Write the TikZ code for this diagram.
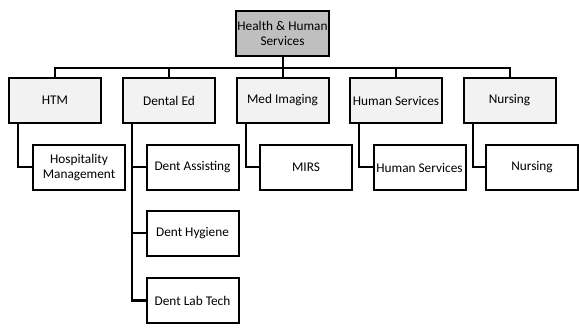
\documentclass[tikz,border=0pt]{standalone}
\usepackage{fontspec}
\setmainfont{Carlito}
\definecolor{topgray}{HTML}{BFBFBF}
\definecolor{lightgray1}{HTML}{F2F2F2}
\begin{document}
\begin{tikzpicture}[x=1pt,y=-1pt,
  box/.style={draw=black, line width=2pt, rectangle, minimum width=92pt, minimum height=45pt, inner sep=1pt, align=center, font=\fontsize{13.3}{15}\selectfont},
  topbox/.style={box, fill=topgray},
  l1box/.style={box, fill=lightgray1},
  l2box/.style={box, fill=white},
  conn/.style={line width=2pt},
  spine/.style={line width=2.8pt}]
\useasboundingbox (0,0) rectangle (579,328);
\node[topbox] (top) at (282.5,33.5) {Health \& Human\\Services};
\node[l1box] (htm) at (55,100.5) {HTM};
\node[l1box] (den) at (169,100.5) {Dental Ed};
\node[l1box] (med) at (282.5,100.5) {Med Imaging};
\node[l1box] (hs) at (396,100.5) {Human Services};
\node[l1box] (nur) at (509.5,100.5) {Nursing};
\node[l2box] (hosp) at (79,167.5) {Hospitality\\Management};
\node[l2box] (da) at (192.5,167.5) {Dent Assisting};
\node[l2box] (mirs) at (306,167.5) {MIRS};
\node[l2box] (hs2) at (419.5,167.5) {Human Services};
\node[l2box] (nur2) at (532,167.5) {Nursing};
\node[l2box] (hyg) at (192.5,233.5) {Dent Hygiene};
\node[l2box] (lab) at (192.5,300.5) {Dent Lab Tech};
\coordinate (bus) at (0,68);
% top-level bus
\draw[conn] (top.south) -- (top.south |- bus);
\draw[conn] (htm.north) |- (bus -| nur.north) -- (nur.north);
\foreach \n in {den,med,hs} \draw[conn] (\n.north) -- (\n.north |- bus);
% children
\draw[conn] ([xshift=10pt]htm.south west) |- (hosp.west);
\draw[conn] ([xshift=10pt]med.south west) |- (mirs.west);
\draw[conn] ([xshift=10pt]hs.south west) |- (hs2.west);
\draw[conn] ([xshift=10pt]nur.south west) |- (nur2.west);
\coordinate (sp) at ([xshift=10pt]den.south west);
\draw[spine] (sp) |- (lab.west);
\draw[conn] (da.west) -- (da.west -| sp);
\draw[conn] (hyg.west) -- (hyg.west -| sp);
\end{tikzpicture}
\end{document}
